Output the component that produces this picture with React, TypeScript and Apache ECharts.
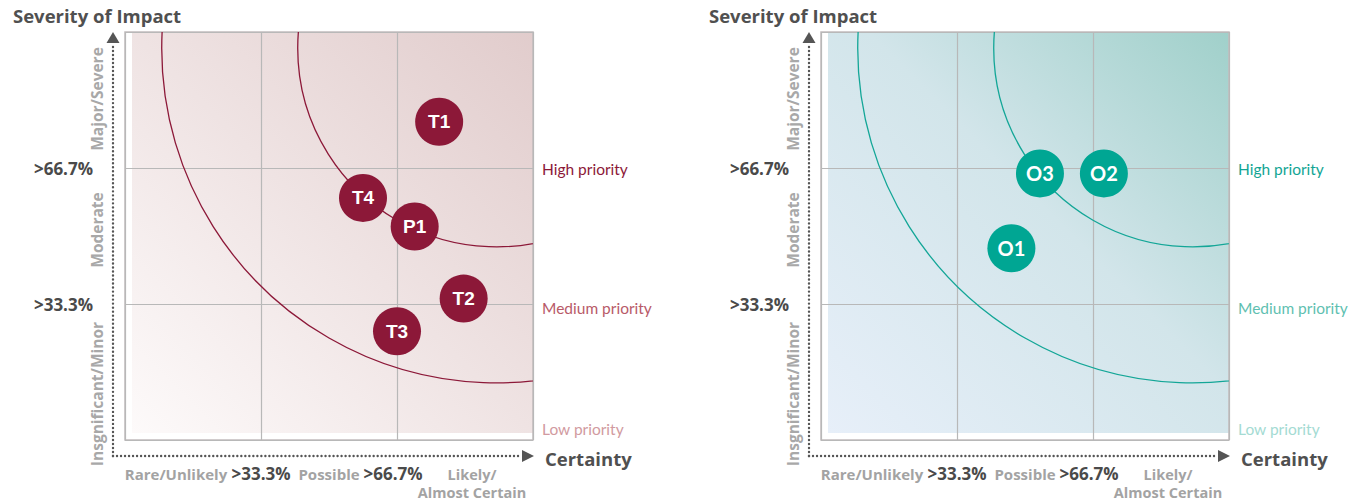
import React, { useEffect, useRef } from "react";
import * as echarts from "echarts";

// ---------- data ----------
const threatNames = ["T1", "T4", "P1", "T2", "T3"];
const threatCertainty = [2.31, 1.75, 2.13, 2.49, 2.0];
const threatSeverity = [2.34, 1.78, 1.57, 1.04, 0.8];

const oppNames = ["O3", "O2", "O1"];
const oppCertainty = [1.61, 2.08, 1.4];
const oppSeverity = [1.96, 1.96, 1.41];

// x labels at 0, 0.5, 1, ..., 3
const xTickLabels = ["", "Rare/Unlikely", ">33.3%", "Possible", ">66.7%", "Likely/\nAlmost Certain", ""];
// y labels at 0, 1, 2, 3
const yPercentLabels = ["", ">33.3%", ">66.7%", ""];
const yBandLabels = ["Insgnificant/Minor", "Moderate", "Major/Severe"];
const priorityLabels = ["High priority", "Medium priority", "Low priority"];

const priorityArcCenter = [2.73, 2.88];
const priorityArcRadii = [1.46, 2.46];

// ---------- layout / style ----------
const GRID_TOP = 32;
const GRID_SIZE = 408;
const GRID_LEFTS = [125, 821];
const BOLD_FONT = "'Open Sans', sans-serif";
const LIGHT_FONT = "Lato, 'Open Sans', sans-serif";

const themes = [
  {
    bubble: "#8c1838",
    arc: "#8c1838",
    pri: ["#8c1838", "#b85a68", "#d19aa0"],
    grad: [
      { offset: 0, color: "#fdfafa" },
      { offset: 1, color: "#e1cccc" },
    ],
    labelFont: "'Liberation Sans', Arial, sans-serif",
  },
  {
    bubble: "#00a693",
    arc: "#13a697",
    pri: ["#12a594", "#5fbfb1", "#a4dbd3"],
    grad: [
      { offset: 0, color: "#e7eff9" },
      { offset: 0.55, color: "#d2e5ea" },
      { offset: 1, color: "#a0d0ca" },
    ],
    labelFont: LIGHT_FONT,
  },
];

function xLabelFormatter(value: number) {
  const idx = Math.round(value * 2);
  const t = xTickLabels[idx] || "";
  if (!t) return "";
  if (t.startsWith(">")) return idx === 4 ? `{p2|${t}}` : `{p|${t}}`;
  if (idx === 1) return `{rare|${t}}`;
  if (idx === 5) return t.split("\n").map((s) => `{likely|${s}}`).join("\n");
  return `{c|${t}}`;
}

export default function App() {
  const ref = useRef<HTMLDivElement>(null);

  useEffect(() => {
    document.body.style.margin = "0";
    if (!ref.current) return;
    const chart = echarts.init(ref.current, null, { renderer: "svg" });

    const grids: any[] = [];
    const xAxes: any[] = [];
    const yAxes: any[] = [];
    const series: any[] = [];
    const graphics: any[] = [];

    const grayLbl = { fontFamily: BOLD_FONT, fontWeight: "bold", fontSize: 15, color: "#a3a3a3", lineHeight: 17 };
    const pctLbl = { fontFamily: BOLD_FONT, fontWeight: "bold", fontSize: 17, color: "#4a4a4a", lineHeight: 17 };

    GRID_LEFTS.forEach((left, gi) => {
      const th = themes[gi];
      grids.push({
        left,
        top: GRID_TOP,
        width: GRID_SIZE,
        height: GRID_SIZE,
        show: true,
        borderColor: "#c2bcbd",
        borderWidth: 1.5,
        backgroundColor: "transparent",
        outerBoundsMode: "none",
        containLabel: false,
      });
      // grid-line axis
      xAxes.push({
        type: "value",
        gridIndex: gi,
        position: "bottom",
        min: 0,
        max: 3,
        interval: 1,
        axisLine: { show: false },
        axisTick: { show: false },
        axisLabel: { show: false },
        splitLine: { show: true, lineStyle: { color: "#b8b8b8", width: 1.2 } },
      });
      // label axis
      xAxes.push({
        type: "value",
        gridIndex: gi,
        position: "bottom",
        offset: 0,
        min: 0,
        max: 3,
        interval: 0.5,
        axisLine: { show: false },
        axisTick: { show: false },
        splitLine: { show: false },
        axisLabel: {
          show: true,
          margin: 25,
          formatter: xLabelFormatter,
          rich: {
            c: grayLbl,
            rare: { ...grayLbl, padding: [0, 34, 0, 0] },
            likely: { ...grayLbl, fontSize: 14.5, lineHeight: 18, padding: [0, 0, 0, 14] },
            p: pctLbl,
            p2: { ...pctLbl, padding: [0, 8, 0, 0] },
          },
        },
      });
      yAxes.push({
        type: "value",
        gridIndex: gi,
        min: 0,
        max: 3,
        interval: 1,
        axisLine: { show: false },
        axisTick: { show: false },
        splitLine: { show: true, lineStyle: { color: "#b8b8b8", width: 1.2 } },
        axisLabel: {
          show: true,
          margin: 32,
          fontFamily: BOLD_FONT,
          fontWeight: "bold",
          fontSize: 17,
          color: "#4a4a4a",
          formatter: (v: number) => yPercentLabels[Math.round(v)] || "",
        },
      });

      const xIdx = gi * 2;
      // priority arcs
      series.push({
        type: "custom",
        xAxisIndex: xIdx,
        yAxisIndex: gi,
        clip: true,
        silent: true,
        z: 3,
        data: priorityArcRadii.map((r) => [priorityArcCenter[0], priorityArcCenter[1], r]),
        renderItem: (params: any, api: any) => {
          const c = api.coord([api.value(0), api.value(1)]);
          const s = api.size([api.value(2), api.value(2)]);
          return {
            type: "circle",
            shape: { cx: c[0], cy: c[1], r: (s[0] + s[1]) / 2 },
            style: { fill: "none", stroke: th.arc, lineWidth: 1.3 },
          };
        },
      });
      // bubbles
      const names = gi === 0 ? threatNames : oppNames;
      const xs = gi === 0 ? threatCertainty : oppCertainty;
      const ys = gi === 0 ? threatSeverity : oppSeverity;
      series.push({
        type: "scatter",
        xAxisIndex: xIdx,
        yAxisIndex: gi,
        symbolSize: 48,
        z: 5,
        itemStyle: { color: th.bubble, opacity: 1 },
        label: {
          show: true,
          position: "inside",
          formatter: "{b}",
          color: "#ffffff",
          fontFamily: th.labelFont,
          fontWeight: "bold",
          fontSize: gi === 0 ? 19 : 20,
        },
        data: names.map((n, i) => ({ name: n, value: [xs[i], ys[i]] })),
      });

      // gradient fill (inset 7px on left/bottom)
      graphics.push({
        type: "rect",
        z: -10,
        silent: true,
        shape: { x: left + 7, y: GRID_TOP, width: GRID_SIZE - 7, height: GRID_SIZE - 7 },
        style: { fill: new echarts.graphic.LinearGradient(0, 1, 1, 0, th.grad) },
      });

      // dotted axes with arrows
      const ax = left - 12;
      const ay = GRID_TOP + GRID_SIZE + 16;
      const dotStyle = { stroke: "#555555", lineWidth: 2.4, lineDash: [0.01, 4], lineCap: "round" };
      graphics.push({
        type: "line",
        silent: true,
        shape: { x1: ax, y1: ay, x2: ax, y2: GRID_TOP + 13 },
        style: dotStyle,
      });
      graphics.push({
        type: "polygon",
        silent: true,
        shape: { points: [[ax, GRID_TOP], [ax - 6.5, GRID_TOP + 11], [ax + 6.5, GRID_TOP + 11]] },
        style: { fill: "#555555" },
      });
      const xEnd = left + GRID_SIZE;
      graphics.push({
        type: "line",
        silent: true,
        shape: { x1: ax, y1: ay, x2: xEnd - 14, y2: ay },
        style: dotStyle,
      });
      graphics.push({
        type: "polygon",
        silent: true,
        shape: { points: [[xEnd + 1, ay], [xEnd - 11, ay - 6], [xEnd - 11, ay + 6]] },
        style: { fill: "#555555" },
      });

      // titles
      graphics.push({
        type: "text",
        x: left - 112,
        y: 15,
        style: {
          text: "Severity of Impact",
          fontFamily: BOLD_FONT,
          fontWeight: "bold",
          fontSize: 18.5,
          fill: "#505050",
          verticalAlign: "middle",
          align: "left",
        },
      });
      graphics.push({
        type: "text",
        x: xEnd + 12,
        y: ay + 2,
        style: {
          text: "Certainty",
          fontFamily: BOLD_FONT,
          fontWeight: "bold",
          fontSize: 18.5,
          fill: "#505050",
          verticalAlign: "middle",
          align: "left",
        },
      });

      // rotated band labels
      const bandCenters = [394, 230, 99];
      yBandLabels.forEach((t, i) => {
        graphics.push({
          type: "text",
          x: left - 28,
          y: bandCenters[i],
          rotation: Math.PI / 2,
          style: {
            text: t,
            fontFamily: BOLD_FONT,
            fontWeight: "bold",
            fontSize: 15.5,
            fill: "#a8a8a8",
            align: "center",
            verticalAlign: "middle",
          },
        });
      });

      // priority labels
      const priY = [169, 308, 429];
      priorityLabels.forEach((t, i) => {
        graphics.push({
          type: "text",
          x: xEnd + 9,
          y: priY[i],
          style: {
            text: t,
            fontFamily: LIGHT_FONT,
            fontSize: 15.5,
            fill: th.pri[i],
            align: "left",
            verticalAlign: "middle",
          },
        });
      });
    });

    chart.setOption({
      animation: false,
      grid: grids,
      xAxis: xAxes,
      yAxis: yAxes,
      series,
      graphic: { elements: graphics },
    });

    return () => chart.dispose();
  }, []);

  return <div ref={ref} style={{ width: 1361, height: 500 }} />;
}
